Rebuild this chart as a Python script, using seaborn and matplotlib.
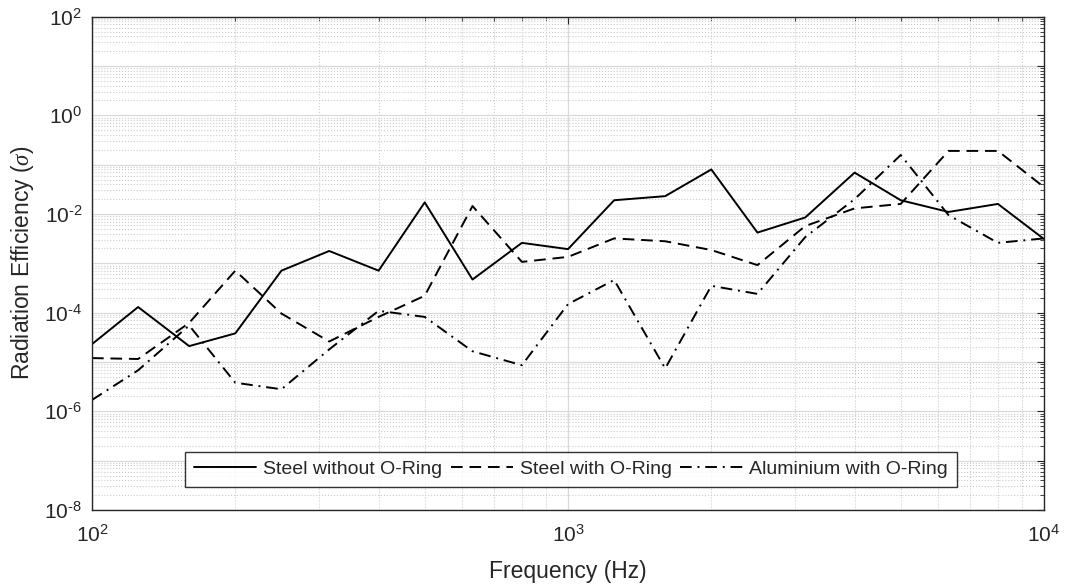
import numpy as np
import pandas as pd
import seaborn as sns
import matplotlib.pyplot as plt
from matplotlib.ticker import LogLocator, NullFormatter

# 1/3 octave centre frequencies
freq = [100, 125, 160, 200, 250, 315, 400, 500, 630, 800, 1000,
        1250, 1600, 2000, 2500, 3150, 4000, 5000, 6300, 8000, 10000]

steel_no_ring = [2.3e-5, 1.3e-4, 2.1e-5, 3.8e-5, 7.1e-4, 1.78e-3, 7.1e-4, 1.72e-2, 4.7e-4, 2.6e-3, 1.94e-3,
                 1.9e-2, 2.3e-2, 8.0e-2, 4.2e-3, 8.5e-3, 6.9e-2, 1.9e-2, 1.1e-2, 1.6e-2, 3.1e-3]
steel_ring = [1.2e-5, 1.15e-5, 6.2e-5, 7.1e-4, 9.6e-5, 2.6e-5, 8.2e-5, 2.2e-4, 1.45e-2, 1.07e-3, 1.35e-3,
              3.2e-3, 2.8e-3, 1.86e-3, 9.2e-4, 5.7e-3, 1.3e-2, 1.6e-2, 0.19, 0.19, 3.5e-2]
alu_ring = [1.7e-6, 6.8e-6, 5.5e-5, 3.8e-6, 2.8e-6, 1.8e-5, 1.09e-4, 8.2e-5, 1.65e-5, 8.6e-6, 1.49e-4,
            4.6e-4, 7.4e-6, 3.5e-4, 2.4e-4, 3.4e-3, 2.0e-2, 0.157, 9.5e-3, 2.6e-3, 3.2e-3]

labels = ['Steel without O-Ring', 'Steel with O-Ring', 'Aluminium with O-Ring']
styles = ['-', (0, (6, 3.5)), (0, (6, 3, 1, 3))]

sns.set_style('white')
plt.rcParams['font.family'] = ['Liberation Sans', 'DejaVu Sans']
plt.rcParams['mathtext.fontset'] = 'custom'
plt.rcParams['mathtext.rm'] = 'Liberation Sans'
plt.rcParams['mathtext.sf'] = 'Liberation Sans'
plt.rcParams['mathtext.it'] = 'Liberation Serif:italic'

fig = plt.figure(figsize=(10.66, 5.87), dpi=100)
ax = fig.add_axes([0.0863, 0.1312, 0.8931, 0.8404])

for y, lab, ls in zip([steel_no_ring, steel_ring, alu_ring], labels, styles):
    df = pd.DataFrame({'f': freq, 'v': y})
    sns.lineplot(data=df, x='f', y='v', ax=ax, color='black', linewidth=1.4,
                 linestyle=ls, label=lab)


def pow_label(v, pos, every=1):
    e = int(round(np.log10(v)))
    if e % every:
        return ''
    s = str(e).replace('-', '\u2010')
    return r'$\mathrm{10^{%s}}$' % s


ax.set_xscale('log')
ax.set_yscale('log')
ax.set_xlim(100, 10000)
ax.set_ylim(1e-8, 1e2)
ax.yaxis.set_major_locator(LogLocator(base=10, numticks=20, subs=(1.0,)))
ax.yaxis.set_major_formatter(plt.FuncFormatter(lambda v, p: pow_label(v, p, 2)))
ax.yaxis.set_minor_locator(LogLocator(base=10, numticks=20, subs=np.arange(2, 10)))
ax.yaxis.set_minor_formatter(NullFormatter())
ax.xaxis.set_major_locator(LogLocator(base=10, numticks=10, subs=(1.0,)))
ax.xaxis.set_major_formatter(plt.FuncFormatter(pow_label))
ax.xaxis.set_minor_locator(LogLocator(base=10, numticks=10, subs=np.arange(2, 10)))
ax.xaxis.set_minor_formatter(NullFormatter())

ax.grid(True, which='major', color='#d9d9d9', linestyle='-', linewidth=0.9)
ax.grid(True, which='minor', color='#cccccc', linestyle=':', linewidth=0.8)
ax.set_axisbelow(True)

ax.tick_params(which='both', direction='in', top=True, right=True, labelsize=15, colors='#262626')
ax.tick_params(which='major', length=5)
ax.tick_params(which='minor', length=3)
ax.tick_params(axis='x', which='major', pad=10)
ax.tick_params(axis='y', which='major', pad=7)
for s in ax.spines.values():
    s.set_color('#262626')
    s.set_linewidth(1.0)

ax.set_xlabel('Frequency (Hz)', fontsize=16.5, color='#262626', labelpad=10)
ax.set_ylabel(r'Radiation Efficiency ($\sigma$)', fontsize=16.5, color='#262626', labelpad=6)

leg = ax.legend(loc='lower center', bbox_to_anchor=(0.503, 0.027), ncol=3, fontsize=14,
                frameon=True, fancybox=False, edgecolor='black', handlelength=3.2,
                handletextpad=0.35, columnspacing=0.45, borderpad=0.45)
leg.get_frame().set_linewidth(1.0)

fig.savefig('out.png', dpi=100)
